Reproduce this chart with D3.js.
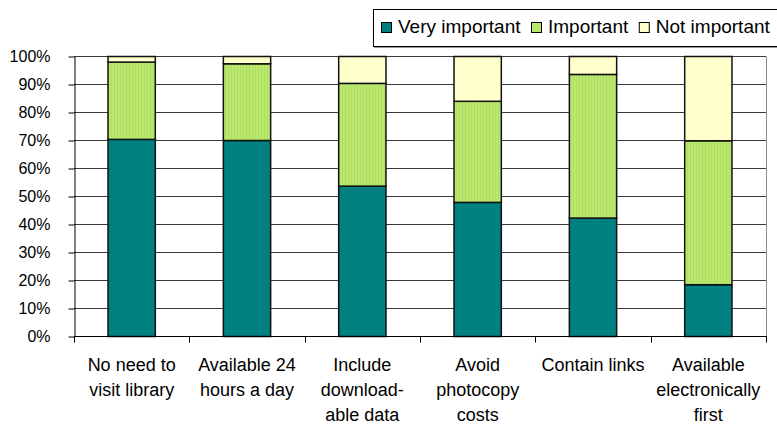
<!DOCTYPE html>
<html>
<head>
<meta charset="utf-8">
<script src="https://cdn.jsdelivr.net/npm/d3@7"></script>
<style>
  html, body { margin: 0; padding: 0; background: #fff; }
  svg { display: block; font-family: "Liberation Sans", Arial, sans-serif; }
</style>
</head>
<body>
<svg id="chart" width="777" height="427"></svg>
<script>
// ---- data ----
const categories = [
  ["No need to", "visit library"],
  ["Available 24", "hours a day"],
  ["Include", "download-", "able data"],
  ["Avoid", "photocopy", "costs"],
  ["Contain links"],
  ["Available", "electronically", "first"]
];
const seriesNames = ["Very important", "Important", "Not important"];
const veryImportant = [70.4, 70.0, 53.7, 47.9, 42.3, 18.5];
const important     = [27.6, 27.4, 36.7, 36.1, 51.3, 51.4];
const notImportant  = [2.0, 2.6, 9.6, 16.0, 6.4, 30.1];
const yTicks = [0, 10, 20, 30, 40, 50, 60, 70, 80, 90, 100];

// ---- layout ----
(function () {
const svg = d3.select("#chart");
const pLeft = 74, pRight = 766, pTop = 56, pBottom = 336;
const colors = ["#008080", "#b9e86e", "#ffffcc"];

const defs = svg.append("defs");
const pat = defs.append("pattern")
  .attr("id", "greenStripe").attr("patternUnits", "userSpaceOnUse")
  .attr("width", 3).attr("height", 10);
pat.append("rect").attr("width", 3).attr("height", 10).attr("fill", "#bbe970");
pat.append("rect").attr("width", 1).attr("height", 10).attr("fill", "#aedd62");
const fills = [colors[0], "url(#greenStripe)", colors[2]];

const keys = categories.map((c, i) => i);
const x = d3.scaleBand().domain(keys).range([pLeft, pRight])
  .paddingInner(0.59).paddingOuter(0.295);
const y = d3.scaleLinear().domain([0, 100]).range([pBottom + 0.5, pTop + 0.5]);

// right border
svg.append("line").attr("x1", pRight + 0.5).attr("x2", pRight + 0.5)
  .attr("y1", y(100)).attr("y2", y(0)).attr("stroke", "#888").attr("stroke-width", 1);

// gridlines
svg.append("g").selectAll("line").data(yTicks.filter(d => d > 0)).join("line")
  .attr("x1", pLeft).attr("x2", pRight)
  .attr("y1", d => y(d)).attr("y2", d => y(d))
  .attr("stroke", "#3a3a3a").attr("stroke-width", 1);

// stacked bars
const table = keys.map(i => ({ i, v: [veryImportant[i], important[i], notImportant[i]] }));
const stack = d3.stack().keys([0, 1, 2]).value((d, k) => d.v[k]);
const layers = stack(table);
svg.append("g").selectAll("g").data(layers).join("g")
  .attr("fill", (d, k) => fills[k])
  .selectAll("rect").data(d => d).join("rect")
  .attr("x", d => x(d.data.i))
  .attr("width", x.bandwidth())
  .attr("y", d => y(Math.min(100, d[1])))
  .attr("height", d => y(d[0]) - y(Math.min(100, d[1])))
  .attr("stroke", "#111").attr("stroke-width", 1.5);

// y axis
const yAxis = d3.axisLeft(y).tickValues(yTicks).tickFormat(d => d + "%")
  .tickSize(6).tickPadding(18).tickSizeOuter(0);
const gy = svg.append("g").attr("transform", `translate(${pLeft + 0.5},0)`).call(yAxis);
gy.select(".domain").attr("stroke", "#000");
gy.selectAll(".tick line").attr("stroke", "#000");
gy.selectAll("text").attr("font-size", 16).attr("fill", "#000")
  .attr("font-family", "Liberation Sans, Arial, sans-serif");

// x axis line and boundary ticks
const step = x.step();
const bounds = d3.range(categories.length + 1).map(k => x.range()[0] + k * step);
svg.append("line").attr("x1", pLeft).attr("x2", pRight + 1)
  .attr("y1", y(0)).attr("y2", y(0)).attr("stroke", "#000");
svg.append("g").selectAll("line").data(bounds).join("line")
  .attr("x1", d => Math.round(d) + 0.5).attr("x2", d => Math.round(d) + 0.5)
  .attr("y1", y(0)).attr("y2", y(0) + 6).attr("stroke", "#000");

// x labels
const lbl = svg.append("g").attr("font-size", 18).attr("fill", "#000").attr("text-anchor", "middle");
categories.forEach((lines, i) => {
  const cx = x(i) + x.bandwidth() / 2;
  const t = lbl.append("text").attr("x", cx).attr("y", y(0) + 34);
  lines.forEach((s, j) => {
    t.append("tspan").attr("x", cx).attr("dy", j === 0 ? 0 : 25).text(s);
  });
});

// legend
const lg = svg.append("g");
lg.append("rect").attr("x", 373.5).attr("y", 9.5).attr("width", 430).attr("height", 37)
  .attr("fill", "#fff").attr("stroke", "#000");
lg.append("line").attr("x1", 374).attr("x2", 777).attr("y1", 47.5).attr("y2", 47.5).attr("stroke", "#999");
let lx = 381;
seriesNames.forEach((name, k) => {
  lg.append("rect").attr("x", lx + 0.5).attr("y", 22.5).attr("width", 10).attr("height", 10)
    .attr("fill", colors[k]).attr("stroke", "#000");
  const t = lg.append("text").attr("x", lx + 17).attr("y", 32.5)
    .attr("font-size", 19).attr("fill", "#000").text(name);
  lx += 17 + t.node().getComputedTextLength() + 10.5;
});
})();
</script>
</body>
</html>
